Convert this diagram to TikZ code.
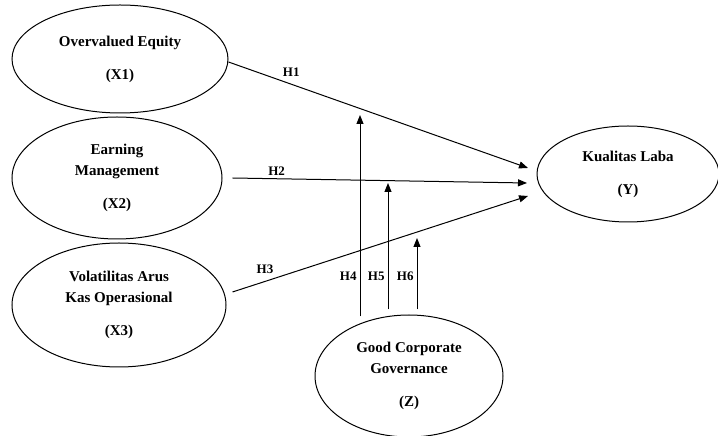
\documentclass[tikz,border=0pt]{standalone}
\usepackage{fontspec}
\setmainfont{Liberation Serif}
\usetikzlibrary{shapes,arrows.meta,positioning}

\begin{document}
\begin{tikzpicture}[
    x=1pt, y=1pt,
    auto,
    >={Triangle[length=9pt,width=7pt]},
    every node/.style={align=center, font=\fontsize{15}{21}\selectfont\bfseries}
]

% Define styles
\tikzstyle{latent} = [ellipse, draw, line width=1pt, inner sep=0pt]
\tikzstyle{line} = [draw, line width=1pt, ->]
\tikzstyle{hlabel} = [font=\fontsize{13}{15}\selectfont\bfseries, inner sep=3pt]

\useasboundingbox (0,0) rectangle (718,436);

% Nodes
\node [latent, minimum width=216, minimum height=108] (x1) at (120,377)
    {Overvalued Equity\\[12pt](X1)};
\node [latent, minimum width=210, minimum height=122] (x2) at (117,258)
    {Earning\\Management\\[12pt](X2)};
\node [latent, minimum width=214, minimum height=124] (x3) at (119,131)
    {Volatilitas Arus\\Kas Operasional\\[12pt](X3)};
\node [latent, minimum width=182, minimum height=96] (y) at (628,262)
    {Kualitas Laba\\[12pt](Y)};
\node [latent, minimum width=188, minimum height=122] (z) at (409,60)
    {Good Corporate\\Governance\\[12pt](Z)};

% Arrow ends
\coordinate (y1) at (528,268);
\coordinate (y2) at (527,253);
\coordinate (y3) at (528,240);
\coordinate (m4) at (360,321);
\coordinate (m5) at (388,253);
\coordinate (m6) at (417,198);

% Paths
\path [line] ([yshift=-3pt]x1.east) -- node [hlabel, pos=.17] {H1} (y1);
\path [line] ([xshift=10pt]x2.east) -- node [hlabel, pos=.15] {H2} (y2);
\path [line] ([shift={(6pt,13pt)}]x3.east) -- node [hlabel, pos=.15] {H3} (y3);

% Moderation
\path [line] ([shift={(-49pt,-2pt)}]z.north) -- node [hlabel, pos=.2, left] {H4} (m4);
\path [line] ([shift={(-21pt,5pt)}]z.north) -- node [hlabel, pos=.26, left] {H5} (m5);
\path [line] ([shift={(8pt,5pt)}]z.north) -- node [hlabel, pos=.46, left] {H6} (m6);

\end{tikzpicture}
\end{document}
